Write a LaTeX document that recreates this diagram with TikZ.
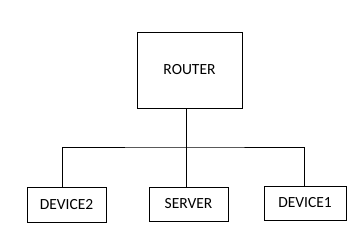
\documentclass[tikz,border=0pt]{standalone}
\usepackage{fontspec}
\setmainfont{Carlito}
\begin{document}
\begin{tikzpicture}[x=1pt,y=-1pt,
  box/.style={draw,line width=0.9pt,inner sep=0pt,font=\fontsize{15.5}{18}\selectfont},
  wire/.style={line width=0.9pt}]
\useasboundingbox (0,0) rectangle (362,239);
\node[box,minimum width=105,minimum height=76] (router) at (189.5,70) {ROUTER};
\node[box,minimum width=79,minimum height=35] (dev2) at (66.5,204.5) {DEVICE2};
\node[box,minimum width=79,minimum height=34] (server) at (188.5,204) {SERVER};
\node[box,minimum width=82,minimum height=34] (dev1) at (305,203) {DEVICE1};
\coordinate (hub) at (186,147);
\draw[wire] (router.south -| hub) -- (hub);
\draw[wire] (dev2.north -| 62,0) |- (hub) -| (dev1.north -| 304,0);
\draw[wire] (hub) -- (server.north -| hub);
\end{tikzpicture}
\end{document}
